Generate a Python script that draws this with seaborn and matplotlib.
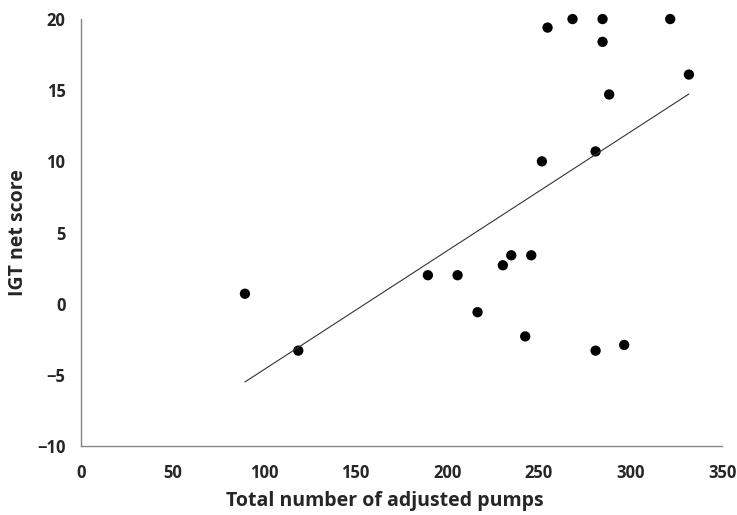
import numpy as np
import pandas as pd
import matplotlib
matplotlib.use("Agg")
import matplotlib.pyplot as plt
import seaborn as sns

# values
pumps = [89.6, 118.7, 189.4, 205.6, 216.5, 230.3, 234.9, 245.8, 242.5, 280.9,
         296.5, 254.7, 268.3, 284.7, 284.7, 321.6, 331.8, 288.3, 280.9, 251.6]
igt = [0.7, -3.3, 2.0, 2.0, -0.6, 2.7, 3.4, 3.4, -2.3, -3.3,
       -2.9, 19.4, 20.0, 20.0, 18.4, 20.0, 16.1, 14.7, 10.7, 10.0]
x_ticks = [0, 50, 100, 150, 200, 250, 300, 350]
y_ticks = [-10, -5, 0, 5, 10, 15, 20]

df = pd.DataFrame({"pumps": pumps, "igt": igt})

sns.set_style("white")
plt.rcParams["font.family"] = ["Open Sans", "DejaVu Sans"]

fig = plt.figure(figsize=(7.37, 5.15), dpi=100)
ax = fig.add_axes([0.1095, 0.134, 0.8705, 0.829])

sns.regplot(data=df, x="pumps", y="igt", ax=ax, ci=None, truncate=True,
            scatter_kws={"s": 55, "color": "black", "edgecolor": "none", "alpha": 1},
            line_kws={"color": "#333333", "linewidth": 0.8})
for coll in ax.collections:
    coll.set_clip_on(False)

ax.set_xlim(0, 350)
ax.set_ylim(-10, 20)
ax.set_xticks(x_ticks)
ax.set_yticks(y_ticks)
ax.set_xticklabels([str(v) for v in x_ticks], fontsize=12, fontweight="bold")
ax.set_yticklabels([str(v).replace("-", "\u2212") for v in y_ticks], fontsize=12, fontweight="bold")
ax.tick_params(axis="x", direction="out", length=5, width=1, color="#888888", pad=8)
ax.tick_params(axis="y", direction="out", length=5, width=1, color="#888888", pad=6)

for side in ["top", "right"]:
    ax.spines[side].set_visible(False)
for side in ["left", "bottom"]:
    ax.spines[side].set_color("#888888")
    ax.spines[side].set_linewidth(1)

ax.set_xlabel("Total number of adjusted pumps", fontsize=14, fontweight="bold")
ax.set_ylabel("IGT net score", fontsize=14, fontweight="bold")
ax.xaxis.set_label_coords(0.474, -0.105)
ax.yaxis.set_label_coords(-0.082, 0.5)

fig.savefig("out.png", dpi=100)
